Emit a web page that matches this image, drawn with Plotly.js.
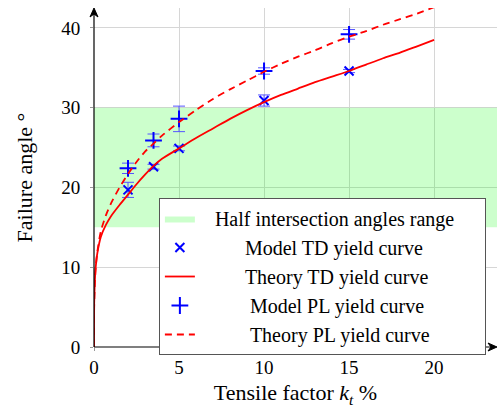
<!DOCTYPE html>
<html>
<head>
<meta charset="utf-8">
<script src="https://cdn.plot.ly/plotly-3.0.1.min.js"></script>
<style>html,body{margin:0;padding:0;background:#fff}#chart{width:498px;height:408px}</style>
</head>
<body>
<div id="chart"></div>
<script>
// Band: half intersection angles range
var bandX = [0, 25, 25, 0];
var bandY = [15, 15, 30, 30];

// Model TD yield curve (x markers)
var tdX = [2, 3.5, 5, 10, 15];
var tdY = [19.7, 22.6, 24.9, 30.9, 34.6];
var tdErr = [0.95, 0.3, 0.3, 0.7, 0.2];

// Model PL yield curve (+ markers)
var plX = [2, 3.5, 5, 10, 15];
var plY = [22.4, 25.9, 28.6, 34.6, 39.2];
var plErr = [0.65, 0.8, 1.6, 0.4, 0.6];

// Theory curves
var thX  = [0, 0.01, 0.05, 0.1, 0.2, 0.4, 0.7, 1, 1.5, 2, 2.5, 3, 3.5, 4, 5, 6, 7, 8, 9, 10, 11, 12, 13, 14, 15, 16, 17, 18, 19, 20];
var thTD = [0, 5.5, 8.3, 10, 11.8, 13.8, 15.3, 16.4, 17.8, 19.1, 20.4, 21.6, 22.7, 23.6, 24.9, 26.2, 27.4, 28.6, 29.7, 30.7, 31.6, 32.4, 33.2, 33.9, 34.6, 35.4, 36.2, 36.9, 37.7, 38.5];
var thPL = [0, 5.0, 8.0, 10, 12.0, 14.5, 16.5, 18.0, 20.0, 21.7, 23.2, 24.5, 25.5, 26.5, 28.2, 29.7, 31.1, 32.3, 33.4, 34.5, 35.5, 36.4, 37.2, 38.1, 38.9, 39.6, 40.4, 41.1, 41.8, 42.6];

var xTicks = [0, 5, 10, 15, 20];
var yTicks = [0, 10, 20, 30, 40];

// Legend labels
var seriesNames = ['Half intersection angles range', 'Model TD yield curve', 'Theory TD yield curve',
                   'Model PL yield curve', 'Theory PL yield curve'];
// leading / trailing non-breaking spaces so labels sit centred in the legend column
var padLead = [3, 9, 9, 10, 10];
var padTrail = [5, 0, 0, 0, 0];
function nb(n) { return new Array(n + 1).join('\u00A0'); }
var labels = seriesNames.map(function (s, i) { return nb(padLead[i]) + s + nb(padTrail[i]); });

var FONT = 'Liberation Serif';
var BLUE = '#0000ff';

var traces = [
  {x: bandX, y: bandY, type: 'scatter', mode: 'lines', fill: 'toself',
   fillcolor: 'rgba(0,255,0,0.2)', line: {width: 0}, hoverinfo: 'skip',
   name: labels[0]},
  {x: tdX, y: tdY, type: 'scatter', mode: 'markers',
   marker: {symbol: 'x-thin', size: 9, color: BLUE, line: {width: 2, color: BLUE}},
   error_y: {type: 'data', array: tdErr, visible: true, color: '#5555ff', thickness: 1, width: 6},
   name: labels[1]},
  {x: thX, y: thTD, type: 'scatter', mode: 'lines', line: {color: '#ff0000', width: 1.8, shape: 'spline', smoothing: 0.6},
   name: labels[2]},
  {x: plX, y: plY, type: 'scatter', mode: 'markers',
   marker: {symbol: 'cross-thin', size: 12, color: BLUE, line: {width: 2, color: BLUE}},
   error_y: {type: 'data', array: plErr, visible: true, color: '#5555ff', thickness: 1, width: 6},
   name: labels[3]},
  {x: thX, y: thPL, type: 'scatter', mode: 'lines', line: {color: '#ff0000', width: 1.8, dash: '7px,5px', shape: 'spline', smoothing: 0.6},
   name: labels[4]}
];

var layout = {
  width: 498, height: 408,
  margin: {l: 94, r: 1, t: 8, b: 61},
  paper_bgcolor: '#fff', plot_bgcolor: '#fff',
  font: {family: FONT, size: 19, color: '#000'},
  showlegend: true,
  legend: {x: 0.161, y: 0.4395, xanchor: 'left', yanchor: 'top',
           bgcolor: '#fff', bordercolor: '#555', borderwidth: 1,
           font: {family: FONT, size: 20, color: '#000'}, tracegroupgap: 0},
  xaxis: {range: [0, 23.7], tickvals: xTicks, ticktext: xTicks.map(String),
          showgrid: true, gridcolor: '#d6d6d6', gridwidth: 1, zeroline: false, showline: false,
          ticks: 'outside', ticklen: 3, tickcolor: '#999',
          tickfont: {family: FONT, size: 19, color: '#000'},
          title: {text: 'Tensile factor <i>k</i><sub><i>t</i></sub> %', font: {family: FONT, size: 22, color: '#000'}, standoff: 12}},
  yaxis: {range: [0, 42.5], tickvals: yTicks, ticktext: yTicks.map(String),
          showgrid: true, gridcolor: '#d6d6d6', gridwidth: 1, zeroline: false, showline: false,
          ticks: 'outside', ticklen: 3, tickcolor: '#999', ticklabelstandoff: 6,
          tickfont: {family: FONT, size: 19, color: '#000'},
          title: {text: 'Failure angle °', font: {family: FONT, size: 22, color: '#000'}, standoff: 22}},
  shapes: [
    {type: 'line', xref: 'paper', yref: 'paper', x0: 0, y0: 0, x1: 0.995, y1: 0, line: {color: '#000', width: 1.2}},
    {type: 'line', xref: 'paper', yref: 'paper', x0: 0, y0: 0, x1: 0, y1: 0.99, line: {color: '#000', width: 1.2}},
    {type: 'path', xref: 'paper', yref: 'paper', xsizemode: 'pixel', ysizemode: 'pixel', xanchor: 1, yanchor: 0,
     path: 'M 0 0 L -9 4 L -6 0 L -9 -4 Z', fillcolor: '#000', line: {color: '#000', width: 1}},
    {type: 'path', xref: 'paper', yref: 'paper', xsizemode: 'pixel', ysizemode: 'pixel', xanchor: 0, yanchor: 1,
     path: 'M 0 0 L -4 -9 L 0 -6 L 4 -9 Z', fillcolor: '#000', line: {color: '#000', width: 1}}
  ]
};

Plotly.newPlot('chart', traces, layout, {displayModeBar: false, staticPlot: true});
</script>
</body>
</html>
